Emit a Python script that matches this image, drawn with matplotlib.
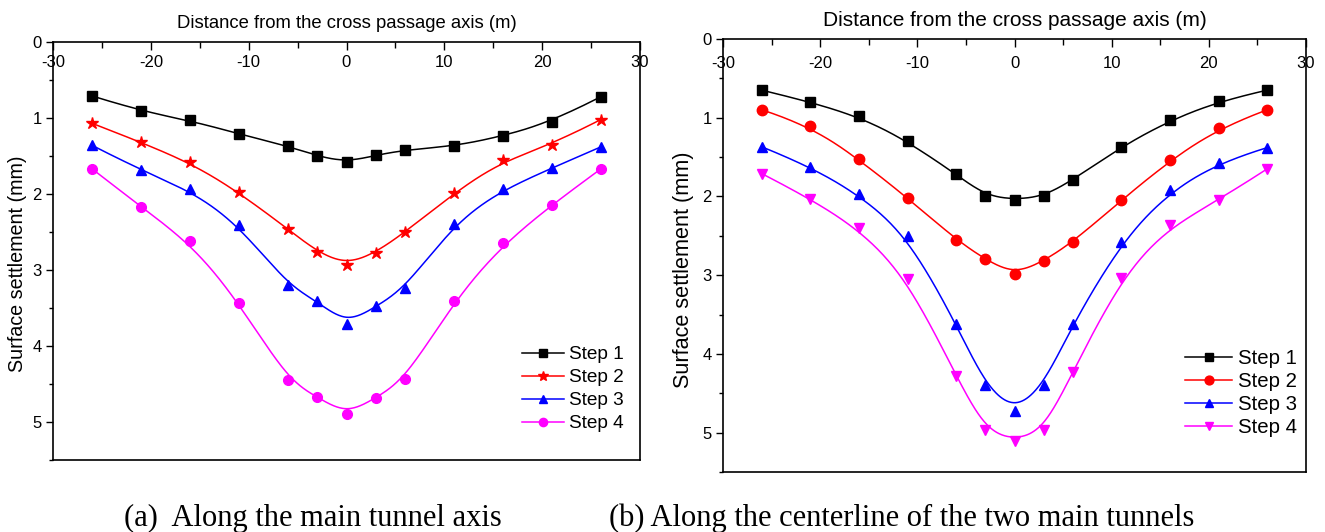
import numpy as np
import matplotlib
matplotlib.use("Agg")
import matplotlib.pyplot as plt
from matplotlib.ticker import MultipleLocator

plt.rcParams['font.family'] = ['Liberation Sans', 'DejaVu Sans']
plt.rcParams['axes.unicode_minus'] = False

# distance from the cross passage axis (m)
dist = [-26, -21, -16, -11, -6, -3, 0, 3, 6, 11, 16, 21, 26]

# (a) settlement along the main tunnel axis (mm)
a_step1 = [0.71, 0.91, 1.03, 1.21, 1.37, 1.50, 1.58, 1.49, 1.42, 1.37, 1.24, 1.05, 0.72]
a_step2 = [1.07, 1.32, 1.58, 1.98, 2.46, 2.76, 2.93, 2.77, 2.50, 1.99, 1.55, 1.35, 1.02]
a_step3 = [1.36, 1.69, 1.94, 2.41, 3.20, 3.41, 3.71, 3.48, 3.24, 2.39, 1.93, 1.66, 1.38]
a_step4 = [1.67, 2.17, 2.62, 3.43, 4.45, 4.67, 4.90, 4.68, 4.44, 3.41, 2.65, 2.14, 1.67]

# (b) settlement along the centerline of the two main tunnels (mm)
b_step1 = [0.65, 0.80, 0.98, 1.30, 1.72, 1.99, 2.04, 2.00, 1.79, 1.37, 1.03, 0.79, 0.65]
b_step2 = [0.90, 1.10, 1.53, 2.02, 2.55, 2.80, 2.99, 2.82, 2.58, 2.05, 1.54, 1.13, 0.90]
b_step3 = [1.37, 1.62, 1.97, 2.50, 3.62, 4.40, 4.73, 4.40, 3.62, 2.58, 1.92, 1.57, 1.38]
b_step4 = [1.71, 2.03, 2.40, 3.05, 4.28, 4.97, 5.10, 4.97, 4.23, 3.03, 2.36, 2.05, 1.65]

labels = ['Step 1', 'Step 2', 'Step 3', 'Step 4']
colors = ['black', 'red', 'blue', '#ff00ff']
markers_a = ['s', '*', '^', 'o']
markers_b = ['s', 'o', '^', 'v']


def bspline(xs, ys, n=400):
    # clamped cubic B-spline using the data points as control points
    P = np.column_stack([xs, ys])
    m = len(P)
    k = 3
    knots = np.concatenate([np.zeros(k), np.arange(m - k + 1), np.full(k, m - k)]).astype(float)
    t = np.linspace(0, m - k, n)
    T = len(knots)
    N = np.zeros((n, T - 1))
    for i in range(T - 1):
        N[:, i] = (t >= knots[i]) & (t < knots[i + 1])
    N[t == knots[-1], m - 1] = 1.0
    for p in range(1, k + 1):
        Nn = np.zeros((n, T - 1 - p))
        for i in range(T - 1 - p):
            d1 = knots[i + p] - knots[i]
            d2 = knots[i + p + 1] - knots[i + 1]
            a = (t - knots[i]) / d1 * N[:, i] if d1 > 0 else 0.0
            b = (knots[i + p + 1] - t) / d2 * N[:, i + 1] if d2 > 0 else 0.0
            Nn[:, i] = a + b
        N = Nn
    c = N @ P
    return c[:, 0], c[:, 1]


def panel(ax, series, markers, ms, title_fs, ylab_fs, ylab_xy, xpad, leg_fs, leg_anchor,
          hlen, lspace):
    for ys, mk, col, lab in zip(series, markers, colors, labels):
        cx, cy = bspline(dist, ys)
        ax.plot(cx, cy, color=col, lw=1.1, zorder=2)
        size = ms * 1.3 if mk == '*' else ms
        ax.plot(dist, ys, ls='none', marker=mk, ms=size, color=col, mec=col, zorder=3)
        ax.plot([], [], color=col, lw=1.1, marker=mk, ms=size * 0.85, label=lab)
    ax.set_xlim(-30, 30)
    ax.set_ylim(5.5, 0)
    ax.xaxis.set_major_locator(MultipleLocator(10))
    ax.xaxis.set_minor_locator(MultipleLocator(5))
    ax.yaxis.set_major_locator(MultipleLocator(1))
    ax.yaxis.set_minor_locator(MultipleLocator(0.5))
    ax.tick_params(axis='x', which='both', top=True, bottom=False, labeltop=True,
                   labelbottom=False, direction='in', pad=xpad, labelsize=12)
    ax.tick_params(axis='x', which='major', length=6, width=1)
    ax.tick_params(axis='x', which='minor', length=4, width=1)
    ax.tick_params(axis='y', which='both', left=True, right=False, direction='out',
                   labelsize=12, pad=3)
    ax.tick_params(axis='y', which='major', length=5, width=1)
    ax.tick_params(axis='y', which='minor', length=3, width=1)
    for s in ax.spines.values():
        s.set_linewidth(1.2)
    ax.annotate('Distance from the cross passage axis (m)', xy=(0.5, 1), xycoords='axes fraction',
                xytext=(0, 19), textcoords='offset pixels', ha='center', va='center',
                fontsize=title_fs)
    ax.set_ylabel('Surface settlement (mm)', fontsize=ylab_fs)
    ax.yaxis.set_label_coords(*ylab_xy)
    ax.legend(loc='lower right', bbox_to_anchor=leg_anchor, frameon=False, fontsize=leg_fs,
              handlelength=hlen, handletextpad=0.3, labelspacing=lspace, borderpad=0,
              borderaxespad=0)


fig = plt.figure(figsize=(13.25, 5.32), dpi=100)
ax1 = fig.add_axes([53 / 1325, 72 / 532, 587 / 1325, 418 / 532])
ax2 = fig.add_axes([723 / 1325, 60 / 532, 583 / 1325, 433 / 532])

panel(ax1, [a_step1, a_step2, a_step3, a_step4], markers_a, 7, 13.3, 14.2, (-0.045, 0.469),
      -20.5, 13.7, (0.973, 0.066), 2.2, 0.3)
panel(ax2, [b_step1, b_step2, b_step3, b_step4], markers_b, 7.5, 15, 15.6, (-0.05, 0.466),
      -23, 14.7, (0.985, 0.08), 2.3, 0.2)

fig.text(313 / 1325, 6 / 532, '(a)  Along the main tunnel axis', ha='center', va='baseline',
         fontsize=22, family=['Liberation Serif', 'DejaVu Serif'])
fig.text(902 / 1325, 6 / 532, '(b) Along the centerline of the two main tunnels', ha='center',
         va='baseline', fontsize=22, family=['Liberation Serif', 'DejaVu Serif'])

fig.savefig('out.png', dpi=100)
